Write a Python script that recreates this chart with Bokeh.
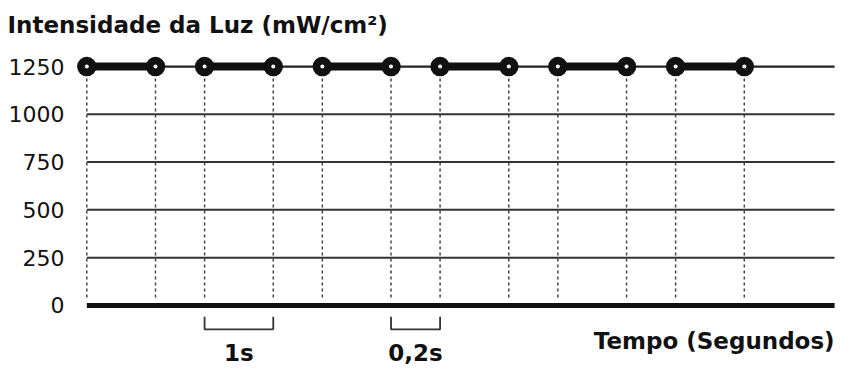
from bokeh.plotting import figure
from bokeh.models import Range1d, FixedTicker
from bokeh.core.properties import value
from bokeh.embed import file_html
from bokeh.resources import INLINE

# ---- data ----
title_text = "Intensidade da Luz (mW/cm²)"
x_label = "Tempo (Segundos)"
yticks = [0, 250, 500, 750, 1000, 1250]
# schematic time positions of the pulse boundaries (as drawn)
pulse_x = [0, 1.4, 2.4, 3.8, 4.8, 6.2, 7.2, 8.6, 9.6, 11.0, 12.0, 13.4]
pulse_y = [1250, 1250, 1250, 1250, 1250, 1250, 1250, 1250, 1250, 1250, 1250, 1250]
phase = ["1s", "0,2s", "1s", "0,2s", "1s", "0,2s", "1s", "0,2s", "1s", "0,2s", "1s"]
bracket_idx = [2, 5]
bracket_labels = ["1s", "0,2s"]

X0, X1 = -0.414, 15.34
X_END = 15.24
Y0, Y1 = -325, 1355
INK = "#111111"

p = figure(width=839, height=367, output_backend="svg", toolbar_location=None,
           x_range=Range1d(X0, X1), y_range=Range1d(Y0, Y1),
           min_border_left=66, min_border_right=0, min_border_top=45, min_border_bottom=0)
p.outline_line_color = None
p.xgrid.visible = False
p.ygrid.visible = False
p.xaxis.visible = False

ax = p.yaxis[0]
ax.ticker = FixedTicker(ticks=yticks)
ax.axis_line_color = None
ax.major_tick_line_color = None
ax.minor_tick_line_color = None
ax.major_tick_in = 0
ax.major_tick_out = 0
ax.major_label_standoff = 2
ax.major_label_text_font = "DejaVu Sans"
ax.major_label_text_font_size = "22px"
ax.major_label_text_color = INK

p.title.text = title_text
p.title.text_font = "DejaVu Sans"
p.title.text_font_style = "bold"
p.title.text_font_size = "23px"
p.title.text_color = INK
p.title.align = "left"
p.title.offset = -59
p.title.standoff = 18

# grid lines (excluding 0 and the data line at 1250)
grid_y = [t for t in yticks if 0 < t < 1250]
p.segment(x0=[0] * len(grid_y), x1=[X_END] * len(grid_y), y0=grid_y, y1=grid_y,
          line_color="#333333", line_width=2)
# zero axis line
p.segment(x0=[0], x1=[X_END], y0=[yticks[0]], y1=[yticks[0]], line_color=INK, line_width=5)

# dashed drops
p.segment(x0=pulse_x, x1=pulse_x, y0=pulse_y, y1=[30] * len(pulse_x),
          line_color="#444444", line_width=1.5, line_dash="3 3")

# intensity trace: thin base line, then thick 1 s pulses on top
p.line(x=pulse_x + [X_END], y=pulse_y + [pulse_y[-1]], line_color="#222222", line_width=2.2)
thick = [i for i, ph in enumerate(phase) if ph == "1s"]
p.segment(x0=[pulse_x[i] for i in thick], x1=[pulse_x[i + 1] for i in thick],
          y0=[pulse_y[i] for i in thick], y1=[pulse_y[i + 1] for i in thick],
          line_color=INK, line_width=8)

# markers
p.scatter(pulse_x, pulse_y, size=19.5, fill_color=INK, line_color=None)
p.scatter(pulse_x, pulse_y, size=4, fill_color="white", line_color=None)

# brackets
xs = [[pulse_x[i], pulse_x[i], pulse_x[i + 1], pulse_x[i + 1]] for i in bracket_idx]
ys = [[-60, -125, -125, -60] for _ in bracket_idx]
p.multi_line(xs=xs, ys=ys, line_color="#333333", line_width=1.8)
p.text(x=[(pulse_x[i] + pulse_x[i + 1]) / 2 for i in bracket_idx], y=[-250] * len(bracket_idx),
       text=bracket_labels, text_font=value("DejaVu Sans"), text_font_style="bold",
       text_font_size="23px", text_align="center", text_baseline="alphabetic", text_color=INK)

p.text(x=[X_END], y=[-185], text=[x_label], text_font=value("DejaVu Sans"), text_font_style="bold",
       text_font_size="23px", text_align="right", text_baseline="alphabetic", text_color=INK)

open("out.html", "w").write(file_html(p, INLINE))
